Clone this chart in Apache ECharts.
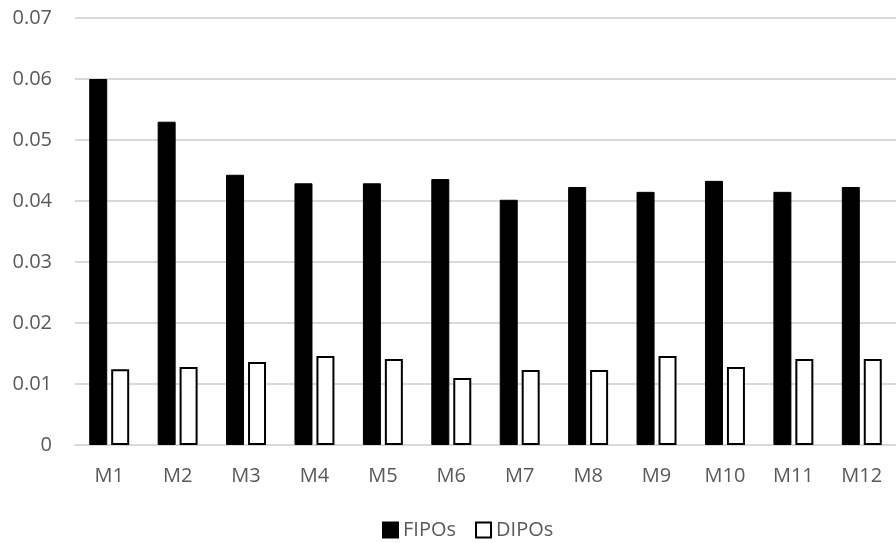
<!DOCTYPE html>
<html>
<head>
<meta charset="utf-8">
<script src="https://cdn.jsdelivr.net/npm/echarts@6/dist/echarts.min.js"></script>
<style>
  html, body { margin: 0; padding: 0; background: #ffffff; }
  #chart { width: 896px; height: 543px; }
</style>
</head>
<body>
<div id="chart"></div>
<script>
const categories = ['M1','M2','M3','M4','M5','M6','M7','M8','M9','M10','M11','M12'];
const fipos = [0.0600, 0.0530, 0.0443, 0.0429, 0.0429, 0.0436, 0.0402, 0.0423, 0.0415, 0.0433, 0.0415, 0.0423];
const dipos = [0.0124, 0.0128, 0.0136, 0.0146, 0.0141, 0.0110, 0.0123, 0.0123, 0.0146, 0.0128, 0.0141, 0.0141];
const yTicks = [0, 0.01, 0.02, 0.03, 0.04, 0.05, 0.06, 0.07];

const FONT = '"Open Sans", "Liberation Sans", sans-serif';
const chart = echarts.init(document.getElementById('chart'), null, { renderer: 'canvas' });
chart.setOption({
  animation: false,
  backgroundColor: '#ffffff',
  grid: { left: 75, right: -11, top: 18, bottom: 98, containLabel: false },
  legend: {
    left: 377, top: 515,
    itemWidth: 15, itemHeight: 15, itemGap: 19,
    icon: 'rect',
    textStyle: { fontFamily: FONT, fontSize: 20, color: '#595959' },
    data: ['FIPOs', 'DIPOs']
  },
  xAxis: {
    type: 'category',
    data: categories,
    axisLine: { show: true, lineStyle: { color: '#d9d9d9', width: 2 } },
    axisTick: { show: false },
    axisLabel: { fontFamily: FONT, fontSize: 20, color: '#595959', margin: 21 }
  },
  yAxis: {
    type: 'value',
    min: yTicks[0],
    max: yTicks[yTicks.length - 1],
    interval: 0.01,
    axisLine: { show: false },
    axisTick: { show: false },
    splitLine: { lineStyle: { color: '#d9d9d9', width: 2 } },
    axisLabel: {
      fontFamily: FONT, fontSize: 20, color: '#595959', margin: 23,
      formatter: v => (Math.round(v * 100) / 100).toString()
    }
  },
  series: [
    {
      name: 'FIPOs', type: 'bar', data: fipos,
      barWidth: 18, barGap: '22%',
      itemStyle: { color: '#000000', borderColor: '#000000', borderWidth: 1 }
    },
    {
      name: 'DIPOs', type: 'bar', data: dipos,
      barWidth: 18,
      itemStyle: { color: '#ffffff', borderColor: '#000000', borderWidth: 2 }
    }
  ]
});
</script>
</body>
</html>
